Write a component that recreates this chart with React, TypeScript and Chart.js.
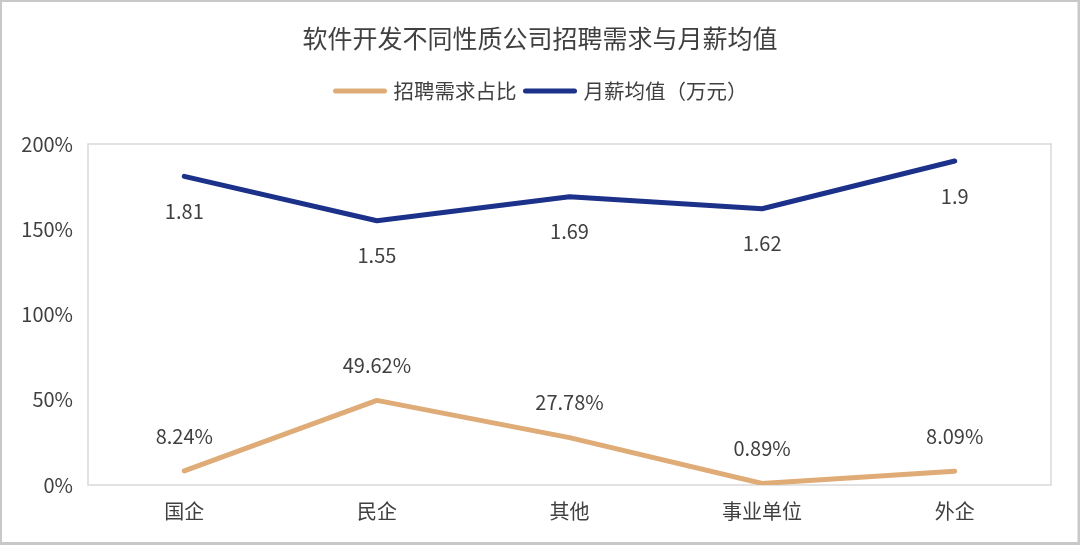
import { useEffect, useRef } from 'react'
import { Chart, registerables, type Plugin } from 'chart.js'

Chart.register(...registerables)

const FONT = '"Noto Sans CJK SC", "Noto Sans", sans-serif'
const TEXT = '#404040'

const title = '软件开发不同性质公司招聘需求与月薪均值'
const categories = ['国企', '民企', '其他', '事业单位', '外企']
const demandName = '招聘需求占比'
const salaryName = '月薪均值（万元）'
// share of hiring demand, %
const demand = [8.24, 49.62, 27.78, 0.89, 8.09]
// average monthly salary, 10k yuan (drawn on the % axis as value * 100)
const salary = [1.81, 1.55, 1.69, 1.62, 1.9]
const yTicks = [0, 50, 100, 150, 200]

const demandColor = '#DFAB77'
const salaryColor = '#1C318A'

/* ------------------------------------------------------------------ */
/*  frame, title, legend, value labels                                */
/* ------------------------------------------------------------------ */

const decor: Plugin<'line'> = {
  id: 'decor',
  beforeDraw(chart) {
    const { ctx, width, height } = chart
    ctx.save()
    ctx.fillStyle = '#fff'
    ctx.fillRect(0, 0, width, height)
    ctx.strokeStyle = '#c8c8c8'
    ctx.lineWidth = 3
    ctx.strokeRect(0.5, 0.5, width - 1.5, height - 2)
    ctx.restore()
  },
  beforeDatasetsDraw(chart) {
    const { ctx, chartArea: a } = chart
    ctx.save()
    ctx.strokeStyle = '#d9d9d9'
    ctx.lineWidth = 1.5
    ctx.strokeRect(a.left, a.top, a.right - a.left, a.bottom - a.top)
    ctx.restore()
  },
  afterDatasetsDraw(chart) {
    const { ctx, width } = chart
    ctx.save()

    // title
    ctx.fillStyle = TEXT
    ctx.font = `25px ${FONT}`
    ctx.textAlign = 'center'
    ctx.textBaseline = 'middle'
    ctx.fillText(title, width / 2, 38)

    // legend
    ctx.font = `20.5px ${FONT}`
    const lineW = 55
    const gap = 6
    const w1 = ctx.measureText(demandName).width
    const w2 = ctx.measureText(salaryName).width
    const total = lineW + gap + w1 + gap + lineW + gap + w2
    let x = width / 2 - total / 2
    const ly = 91
    const items: [string, string, number][] = [
      [demandName, demandColor, w1],
      [salaryName, salaryColor, w2],
    ]
    ctx.textAlign = 'left'
    ctx.lineCap = 'round'
    ctx.lineWidth = 5
    for (const [name, color, tw] of items) {
      ctx.strokeStyle = color
      ctx.beginPath()
      ctx.moveTo(x + 3, ly)
      ctx.lineTo(x + lineW - 3, ly)
      ctx.stroke()
      x += lineW + gap
      ctx.fillStyle = TEXT
      ctx.fillText(name, x, ly)
      x += tw + gap
    }

    // value labels
    ctx.font = `20px ${FONT}`
    ctx.textAlign = 'center'
    ctx.fillStyle = TEXT
    const dMeta = chart.getDatasetMeta(0)
    dMeta.data.forEach((p, i) => {
      ctx.fillText(`${demand[i].toFixed(2)}%`, p.x, p.y - 35)
    })
    const sMeta = chart.getDatasetMeta(1)
    sMeta.data.forEach((p, i) => {
      ctx.fillText(String(salary[i]), p.x, p.y + 35)
    })
    ctx.restore()
  },
}

export default function App() {
  const canvasRef = useRef<HTMLCanvasElement>(null)
  const chartRef = useRef<Chart | null>(null)

  useEffect(() => {
    if (!canvasRef.current) return
    chartRef.current = new Chart(canvasRef.current, {
      type: 'line',
      data: {
        labels: categories,
        datasets: [
          {
            label: demandName,
            data: demand,
            borderColor: demandColor,
            backgroundColor: demandColor,
            borderWidth: 5,
            borderCapStyle: 'round',
            borderJoinStyle: 'round',
            pointRadius: 0,
            tension: 0,
          },
          {
            label: salaryName,
            data: salary.map((v) => v * 100),
            borderColor: salaryColor,
            backgroundColor: salaryColor,
            borderWidth: 5,
            borderCapStyle: 'round',
            borderJoinStyle: 'round',
            pointRadius: 0,
            tension: 0,
          },
        ],
      },
      options: {
        responsive: false,
        maintainAspectRatio: false,
        animation: false,
        layout: { padding: { top: 144, left: 0, right: 29, bottom: 0 } },
        plugins: {
          legend: { display: false },
          title: { display: false },
          tooltip: { enabled: false },
        },
        scales: {
          x: {
            offset: true,
            grid: { display: false, drawTicks: false },
            border: { display: false },
            ticks: { color: TEXT, font: { family: FONT, size: 20 }, padding: 14, maxRotation: 0 },
            afterFit: (s) => { s.height = 60 },
          },
          y: {
            min: 0,
            max: 200,
            afterBuildTicks: (s) => { s.ticks = yTicks.map((value) => ({ value })) },
            grid: { display: false, drawTicks: false },
            border: { display: false },
            ticks: {
              color: TEXT,
              font: { family: FONT, size: 20 },
              padding: 15,
              callback: (v) => `${v}%`,
            },
            afterFit: (s) => { s.width = 88 },
          },
        },
      },
      plugins: [decor],
    })
    return () => { chartRef.current?.destroy(); chartRef.current = null }
  }, [])

  return (
    <canvas
      ref={canvasRef}
      width={1080}
      height={545}
      style={{ position: 'absolute', left: 0, top: 0 }}
    />
  )
}
